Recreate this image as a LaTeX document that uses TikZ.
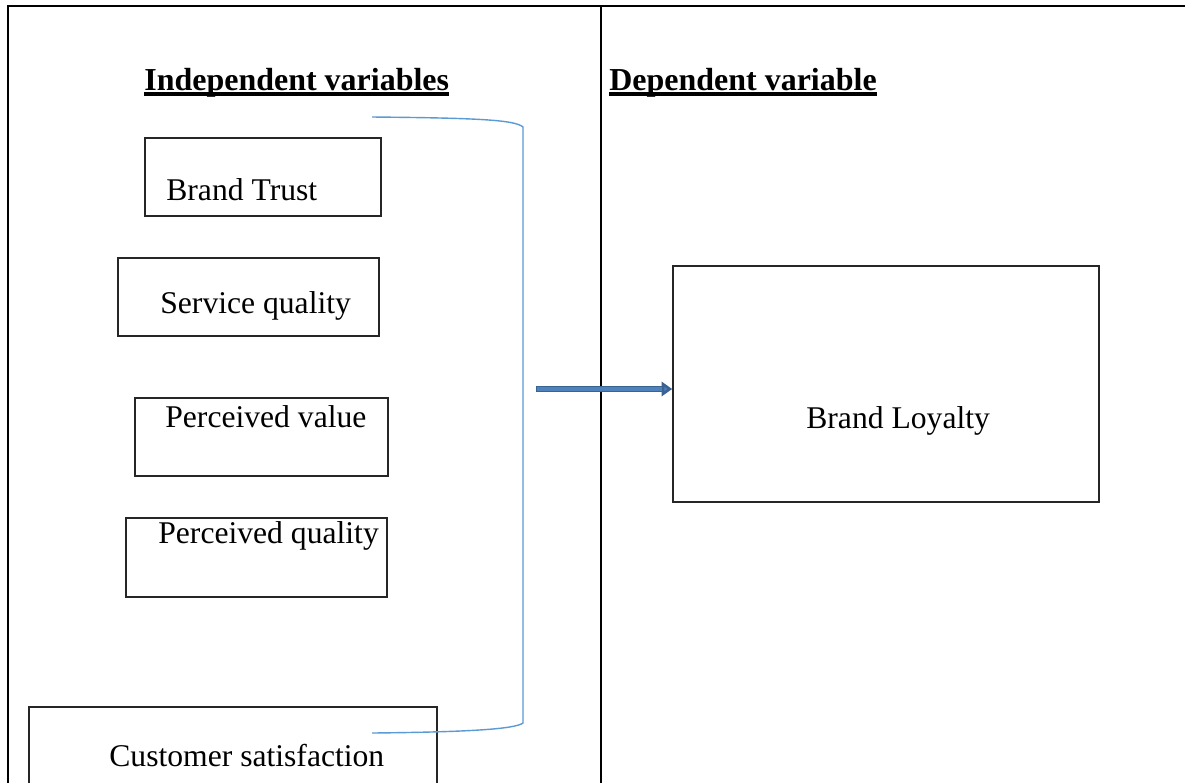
\documentclass[tikz,border=0pt]{standalone}
\usepackage{fontspec}
\setmainfont{Liberation Serif}
\usetikzlibrary{arrows.meta,fit,calc}
\definecolor{bracecol}{HTML}{5B9BD5}
\definecolor{arrdark}{HTML}{3A6391}
\definecolor{arrfill}{HTML}{4F81BD}
\tikzset{
  box/.style={draw=black!85, line width=0.9pt, inner sep=0pt},
  lbl/.style={anchor=base west, inner sep=0pt, font=\fontsize{18}{22}\selectfont},
  head/.style={anchor=base west, inner sep=0pt, font=\fontsize{18.2}{22}\selectfont\bfseries},
  uline/.style={line width=1.8pt},
  frame/.style={line width=1pt, draw=black},
  brace/.style={draw=bracecol, line width=0.8pt},
}
\begin{document}
\begin{tikzpicture}[x=0.02cm, y=-0.02cm]
\clip (0,0) rectangle (1185,782);
\fill[white] (0,0) rectangle (1185,782);
% frame
\draw[frame] (8,790) -- (8,6) -- (1190,6);
\draw[frame] (601,6) -- (601,790);
% headings
\node[head] (ind) at (144,90) {Independent variables};
\draw[uline] ($(ind.base west)+(0,4)$) -- ($(ind.base east)+(0,4)$);
\node[head] (dep) at (609,90) {Dependent variable};
\draw[uline] ($(dep.base west)+(0,4)$) -- ($(dep.base east)+(0,4)$);
% boxes
\node[box, fit={(145,138) (381,216)}] (bt) {};
\node[lbl] (btt) at (166,200) {Brand Trust};
\node[box, fit={(118,258) (379,336)}] (sq) {};
\node[lbl] (sqt) at (160,313) {Service quality};
\node[box, fit={(135,398) (388,476)}] (pv) {};
\node[lbl] (pvt) at (165,427) {Perceived value};
\node[box, fit={(126,518) (387,597)}] (pq) {};
\node[lbl] (pqt) at (158,543) {Perceived quality};
\node[box, fit={(29,707) (437,810)}] (cs) {};
\node[lbl] (cst) at (109,766) {Customer satisfaction};
\node[box, fit={(673,266) (1099,502)}] (bl) {};
\node[lbl] (blt) at (806,428) {Brand Loyalty};
% brace
\coordinate (btop) at (372,117);
\coordinate (bbot) at (372,733);
\draw[brace] (btop) .. controls (480,118) and (515,120) .. (523,127)
  -- (523,723) .. controls (515,729) and (470,732) .. (bbot);
% arrow
\coordinate (astart) at (536,389);
\draw[arrdark, line width=3.6pt, -{Triangle[length=6pt,width=8pt,fill=arrfill]}] (astart) -- (bl.west |- astart);
\draw[arrfill, line width=2pt, shorten >=6pt, shorten <=0.8pt] (astart) -- (bl.west |- astart);
\end{tikzpicture}
\end{document}
